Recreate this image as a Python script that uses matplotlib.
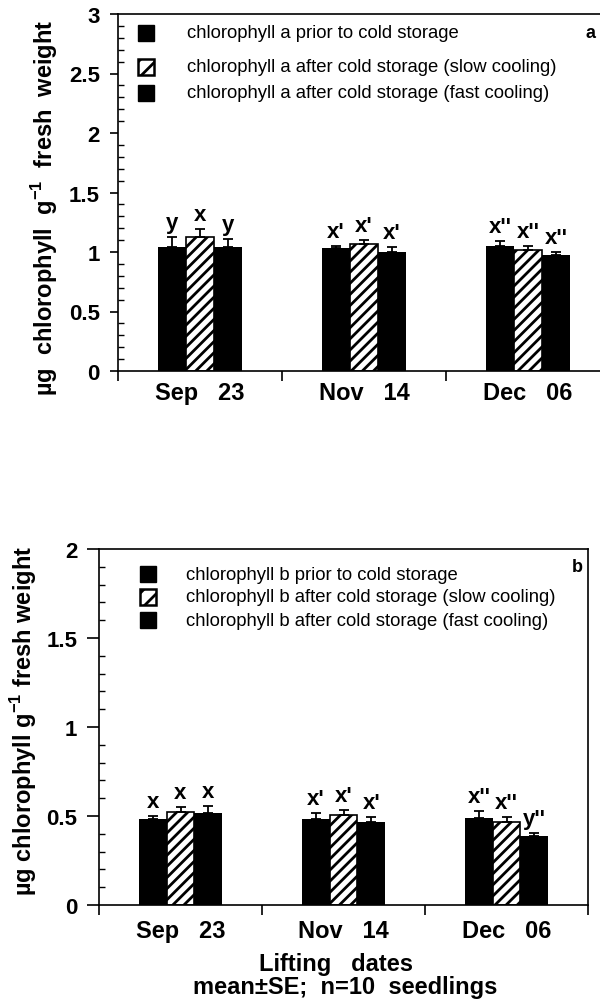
import numpy as np
import matplotlib
matplotlib.use('Agg')
import matplotlib.pyplot as plt
from matplotlib.patches import Rectangle
from matplotlib.ticker import MultipleLocator

plt.rcParams['font.family'] = ['Liberation Sans', 'DejaVu Sans']
plt.rcParams['mathtext.fontset'] = 'custom'
plt.rcParams['mathtext.rm'] = 'Liberation Sans'
plt.rcParams['mathtext.bf'] = 'Liberation Sans:bold'
plt.rcParams['hatch.linewidth'] = 2.0

# lifting dates
dates = ['Sep   23', 'Nov   14', 'Dec   06']

# chlorophyll a: prior, slow cooling, fast cooling (mean, SE)
chl_a_prior = [1.04, 1.03, 1.05]
chl_a_slow = [1.13, 1.07, 1.02]
chl_a_fast = [1.04, 1.00, 0.975]
chl_a_prior_se = [0.085, 0.02, 0.04]
chl_a_slow_se = [0.06, 0.03, 0.03]
chl_a_fast_se = [0.07, 0.04, 0.025]
chl_a_letters = [['y', 'x', 'y'], ["x'", "x'", "x'"], ["x''", "x''", "x''"]]

# chlorophyll b: prior, slow cooling, fast cooling (mean, SE)
chl_b_prior = [0.483, 0.483, 0.489]
chl_b_slow = [0.52, 0.505, 0.466]
chl_b_fast = [0.515, 0.466, 0.388]
chl_b_prior_se = [0.017, 0.034, 0.04]
chl_b_slow_se = [0.03, 0.03, 0.028]
chl_b_fast_se = [0.04, 0.028, 0.016]
chl_b_letters = [['x', 'x', 'x'], ["x'", "x'", "x'"], ["x''", "x''", "y''"]]

legend_a = ['chlorophyll a prior to cold storage',
            'chlorophyll a after cold storage (slow cooling)',
            'chlorophyll a after cold storage (fast cooling)']
legend_b = ['chlorophyll b prior to cold storage',
            'chlorophyll b after cold storage (slow cooling)',
            'chlorophyll b after cold storage (fast cooling)']

W, H = 600, 1004
fig = plt.figure(figsize=(W / 100, H / 100), dpi=100)


def px(x, y):
    return x / W, 1 - y / H


def draw_panel(ax, series, errs, letters, ymax, tick_pad, ylen):
    x = np.arange(len(dates))
    bw = 0.17
    styles = [dict(color='black'),
              dict(color='white', edgecolor='black', hatch='///', linewidth=1.2),
              dict(color='black')]
    for i, (vals, se, st) in enumerate(zip(series, errs, styles)):
        pos = x + (i - 1) * bw
        ax.bar(pos, vals, bw, zorder=2, **st)
        ax.errorbar(pos, vals, yerr=[np.zeros(len(se)), se], fmt='none',
                    ecolor='black', elinewidth=1.3, capsize=3.5, capthick=1.3, zorder=3)
        for j in range(len(dates)):
            ax.annotate(letters[j][i], (pos[j], vals[j] + se[j]), xytext=(0, 3),
                        textcoords='offset points', ha='center', va='bottom',
                        fontsize=16, fontweight='bold')
    ax.set_xlim(-0.5, len(dates) - 0.5)
    ax.set_ylim(0, ymax)
    ax.set_xticks(x)
    ax.set_xticklabels(dates, fontsize=17, fontweight='bold')
    ax.set_xticks(np.arange(len(dates) + 1) - 0.5, minor=True)
    ax.tick_params(axis='x', which='major', length=0, pad=tick_pad)
    ax.tick_params(axis='x', which='minor', length=7.5, width=1.2, direction='out')
    ax.yaxis.set_major_locator(MultipleLocator(0.5))
    ax.yaxis.set_minor_locator(MultipleLocator(0.1))
    ax.tick_params(axis='y', which='major', length=ylen, width=1.2, direction='out',
                   labelsize=16, pad=7)
    ax.tick_params(axis='y', which='minor', length=4, width=1, direction='in')
    ax.set_yticklabels([f'{v:g}' for v in ax.get_yticks()], fontweight='bold')
    for s in ax.spines.values():
        s.set_linewidth(1.2)


def draw_legend(labels, mx, rows, tx):
    for k, (lab, y) in enumerate(zip(labels, rows)):
        x0, y0 = px(mx - 8, y + 8)
        if k == 1:
            sq = Rectangle((x0, y0), 16 / W, 16 / H, transform=fig.transFigure,
                           facecolor='white', edgecolor='black', hatch='//', linewidth=1.8)
        else:
            sq = Rectangle((x0, y0), 16 / W, 16 / H, transform=fig.transFigure,
                           facecolor='black', edgecolor='black')
        fig.add_artist(sq)
        fig.text(*px(tx, y), lab, fontsize=13.3, va='center', ha='left',
                 family=['Liberation Sans Narrow', 'Liberation Sans'])


# panel a
ax1 = fig.add_axes([118 / W, 1 - 372 / H, 492 / W, 357 / H])
draw_panel(ax1, [chl_a_prior, chl_a_slow, chl_a_fast],
           [chl_a_prior_se, chl_a_slow_se, chl_a_fast_se], chl_a_letters, 3, 7, 6)
ax1.set_ylabel(r'µg  chlorophyll  g$^{\mathbf{-1}}$  fresh  weight',
               fontsize=17, fontweight='bold')
ax1.yaxis.set_label_coords(-0.118, 0.46)
draw_legend(legend_a, 146, [34, 68, 94], 187)
fig.text(*px(590, 33), 'a', fontsize=13, fontweight='bold', ha='center', va='center')

# panel b
ax2 = fig.add_axes([99 / W, 1 - 906 / H, 489 / W, 356 / H])
draw_panel(ax2, [chl_b_prior, chl_b_slow, chl_b_fast],
           [chl_b_prior_se, chl_b_slow_se, chl_b_fast_se], chl_b_letters, 2, 10, 8.5)
ax2.set_ylabel(r'µg chlorophyll g$^{\mathbf{-1}}$ fresh weight',
               fontsize=17, fontweight='bold')
ax2.yaxis.set_label_coords(-0.123, 0.52)
draw_legend(legend_b, 148, [575, 598, 621], 186)
fig.text(*px(577, 568), 'b', fontsize=13, fontweight='bold', ha='center', va='center')

fig.text(*px(336, 965), 'Lifting   dates', fontsize=17, fontweight='bold',
         ha='center', va='center')
fig.text(*px(345, 988), 'mean±SE;  n=10  seedlings', fontsize=17, fontweight='bold',
         ha='center', va='center')

fig.savefig('out.png', dpi=100)
